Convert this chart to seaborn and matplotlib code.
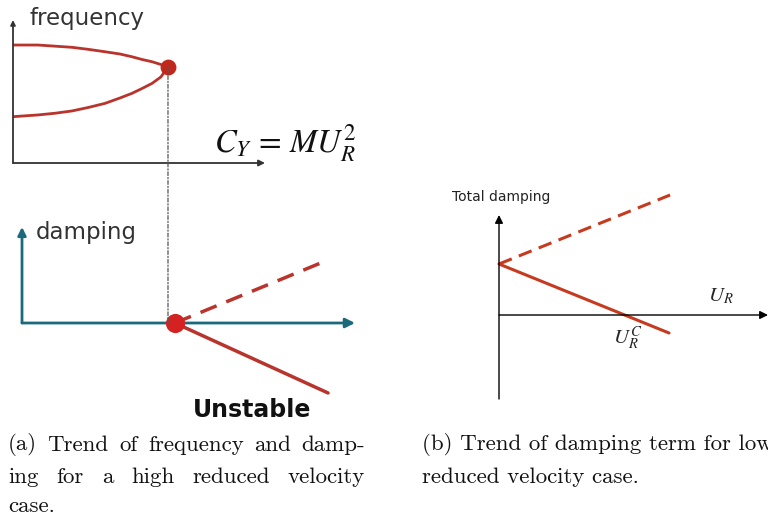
import numpy as np
import pandas as pd
import matplotlib
matplotlib.use("Agg")
import matplotlib.pyplot as plt
import seaborn as sns
from matplotlib.patches import ConnectionPatch

sns.set_style("white")
plt.rcParams["mathtext.fontset"] = "stix"

# ---------------- data (schematic units) ----------------
# (a) top: frequency branches vs C_Y
freq_upper_x = [0, 0.99, 1.67, 2.34, 2.98, 3.65, 4.25, 4.72, 5.12, 5.52, 5.83, 6.15]
freq_upper_y = [8.25, 8.25, 8.17, 8.09, 7.95, 7.78, 7.62, 7.43, 7.24, 7.08, 6.91, 6.73]
freq_lower_x = [0, 0.99, 1.67, 2.34, 2.98, 3.65, 4.25, 4.72, 5.12, 5.52, 5.87, 6.15]
freq_lower_y = [3.24, 3.36, 3.48, 3.64, 3.88, 4.17, 4.55, 4.87, 5.21, 5.57, 6.02, 6.71]
coalesce_pt = (6.15, 6.72)

# (a) bottom: damping branches
damp_x = [4.59, 9.19]
damp_up_y = [0.0, 6.43]
damp_down_y = [0.0, -7.14]
damp_pt = (4.59, 0.0)

# (b) total damping vs U_R
tot_x_up = [0.0, 6.36]
tot_y_up = [5.1, 12.0]
tot_x_dn = [0.0, 6.32]
tot_y_dn = [5.1, -1.8]

caption_a = ["(a) Trend of frequency and damp-", "ing for a high reduced velocity", "case."]
caption_b = ["(b) Trend of damping term for low", "reduced velocity case."]

W, H = 768, 522
fig = plt.figure(figsize=(W / 100, H / 100), dpi=100)


def box(x0, x1, y0, y1):
    return [x0 / W, 1 - y1 / H, (x1 - x0) / W, (y1 - y0) / H]


def arrow(ax, start, end, color, lw, ms):
    ax.annotate("", xy=end, xytext=start,
                arrowprops=dict(arrowstyle="-|>", color=color, lw=lw,
                                mutation_scale=ms, shrinkA=0, shrinkB=0),
                annotation_clip=False)


red_a = "#b8342c"
red_dot = "#d42222"
red_b = "#c63a20"
teal = "#1b6a7b"

# ---------- panel (a) top ----------
ax1 = fig.add_axes(box(13, 265, 20, 163))
ax1.set_xlim(0, 10)
ax1.set_ylim(0, 10)
ax1.axis("off")
arrow(ax1, (0, 0), (10, 0), "#333333", 1.3, 9)
arrow(ax1, (0, 0), (0, 10), "#333333", 1.3, 7)
sns.lineplot(x=freq_upper_x, y=freq_upper_y, ax=ax1, color=red_a, lw=2,
             sort=False, estimator=None, solid_joinstyle="round")
sns.lineplot(x=freq_lower_x, y=freq_lower_y, ax=ax1, color=red_a, lw=2,
             sort=False, estimator=None, solid_joinstyle="round")
ax1.scatter([coalesce_pt[0]], [coalesce_pt[1]], s=130, color="#c0281c",
            zorder=5, clip_on=False, linewidths=0)

# ---------- panel (a) bottom ----------
ax2 = fig.add_axes(box(22, 355, 225, 421))
ax2.set_xlim(0, 10)
ax2.set_ylim(-10, 10)
ax2.axis("off")
arrow(ax2, (0, 0), (10, 0), teal, 2.0, 14)
arrow(ax2, (0, 0), (0, 9.8), teal, 2.0, 12)
sns.lineplot(x=damp_x, y=damp_up_y, ax=ax2, color=red_a, lw=2.5,
             linestyle=(0, (5, 3)), sort=False, estimator=None)
sns.lineplot(x=damp_x, y=damp_down_y, ax=ax2, color=red_a, lw=2.5,
             sort=False, estimator=None)
ax2.scatter([damp_pt[0]], [damp_pt[1]], s=190, color=red_dot, zorder=5,
            clip_on=False, linewidths=0)

# dotted connector between the two panels
con = ConnectionPatch(xyA=coalesce_pt, coordsA=ax1.transData,
                      xyB=((168 - 22) / 33.3, 0), coordsB=ax2.transData,
                      linestyle=(0, (3, 1.5, 1, 1.5)), color="#555555", lw=0.9,
                      zorder=1)
fig.add_artist(con)

# ---------- panel (b) ----------
ax3 = fig.add_axes(box(499, 768, 215, 415))
ax3.set_xlim(0, 10)
ax3.set_ylim(-10, 10)
ax3.axis("off")
arrow(ax3, (0, 0), (10, 0), "black", 1.0, 12)
arrow(ax3, (0, -8.4), (0, 10), "black", 1.0, 12)
sns.lineplot(x=tot_x_up, y=tot_y_up, ax=ax3, color=red_b, lw=2.2,
             linestyle=(0, (4.5, 2.5)), sort=False, estimator=None, clip_on=False)
sns.lineplot(x=tot_x_dn, y=tot_y_dn, ax=ax3, color=red_b, lw=2.2,
             sort=False, estimator=None, clip_on=False)

# ---------- labels ----------
def ft(xp, yp, s, **kw):
    return fig.text(xp / W, 1 - yp / H, s, **kw)

ft(30, 18, "frequency", fontsize=16.5, va="center", color="#333333")
ft(214, 143, r"$C_Y\,=\,MU_R^2$", fontsize=23.5, va="center", color="#111111")
ft(36, 232, "damping", fontsize=16.5, va="center", color="#333333")
ft(252, 410, "Unstable", fontsize=17, fontweight="bold", va="center",
   ha="center", color="#111111")
ft(452, 197, "Total damping", fontsize=10, va="center", color="#222222")
ft(708, 296, r"$U_R$", fontsize=15, va="center")
ft(613, 338, r"$U_R^C$", fontsize=15, va="center")

# ---------- captions ----------
cap_kw = dict(fontsize=16.5, family="cmr10", va="center", color="#111111")
renderer = fig.canvas.get_renderer()


def justified(line, x0, x1, yp):
    words = line.split(" ")
    texts = [ft(0, yp, w, **cap_kw) for w in words]
    widths = [t.get_window_extent(renderer).width for t in texts]
    gap = (x1 - x0 - sum(widths)) / max(len(words) - 1, 1)
    x = x0
    for t, w in zip(texts, widths):
        t.set_x(x / W)
        x += w + gap


justified(caption_a[0], 8, 365, 445)
justified(caption_a[1], 8, 365, 477)
ft(8, 506, caption_a[2], **cap_kw)
ft(422, 445, caption_b[0], **cap_kw)
ft(422, 477, caption_b[1], **cap_kw)

fig.savefig("out.png", dpi=100)
